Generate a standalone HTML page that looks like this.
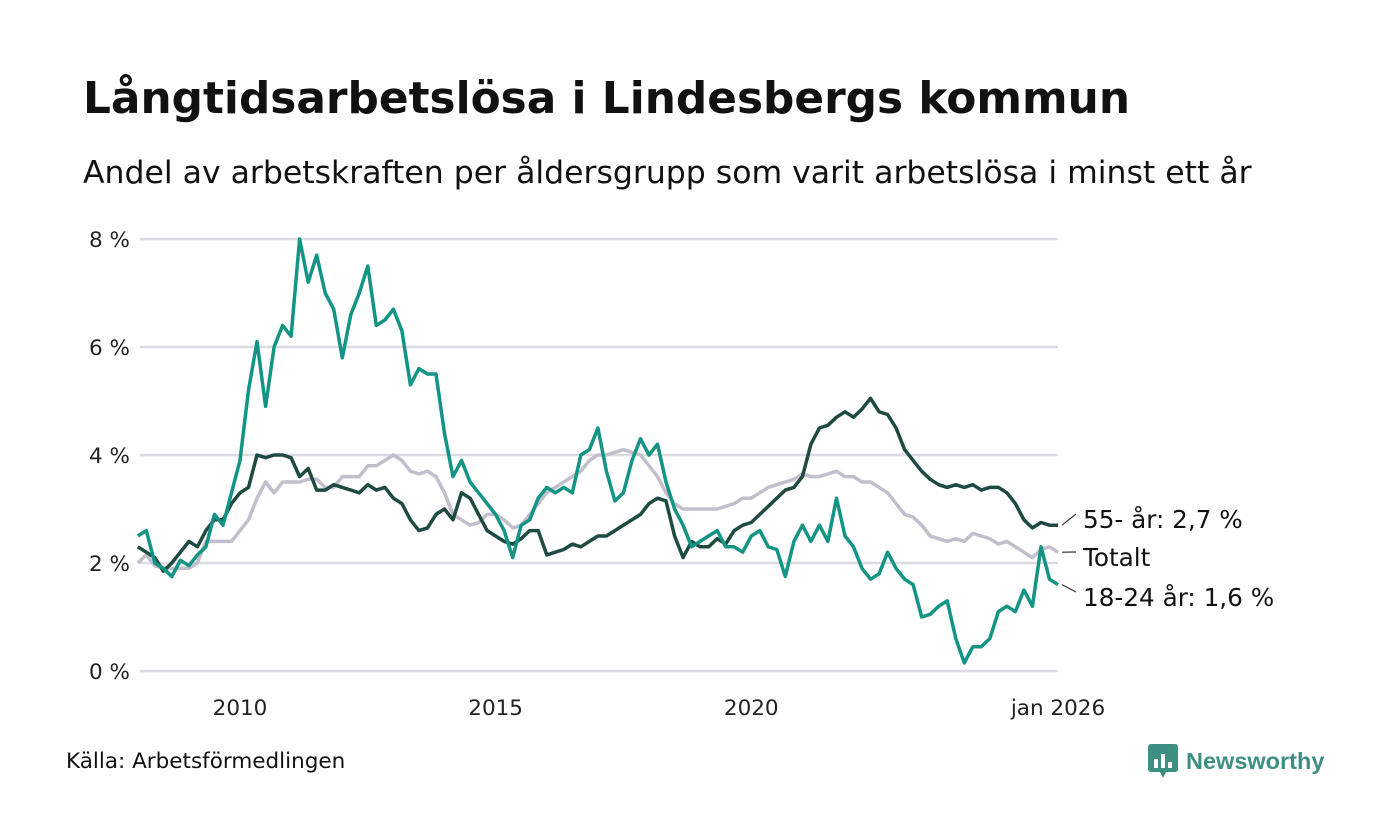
<!DOCTYPE html>
<html><head><meta charset="utf-8">
<style>
body{margin:0;background:#fff;font-family:"DejaVu Sans","Liberation Sans",sans-serif;}
#wrap{position:relative;width:1400px;height:840px;overflow:hidden;}
h1{position:absolute;left:83px;top:73px;margin:0;font-size:43.8px;font-weight:bold;color:#111;white-space:nowrap;}
.sub{position:absolute;left:83px;top:155px;font-size:31.5px;color:#111;white-space:nowrap;}
.src{position:absolute;left:66px;top:749px;font-size:21.5px;color:#111;}
.logo{position:absolute;left:1148px;top:744px;display:flex;align-items:center;gap:8px;color:#3d8f82;font-weight:bold;font-size:23.5px;font-family:"Liberation Sans",sans-serif;}
svg text{font-family:"DejaVu Sans","Liberation Sans",sans-serif;}
</style></head><body>
<div id="wrap">
<h1>Långtidsarbetslösa i Lindesbergs kommun</h1>
<div class="sub">Andel av arbetskraften per åldersgrupp som varit arbetslösa i minst ett år</div>
<svg id="chart" width="1400" height="840" style="position:absolute;left:0;top:0"></svg>
<div class="src">Källa: Arbetsförmedlingen</div>
<div class="logo">
<svg width="30" height="34" viewBox="0 0 30 34"><rect x="0" y="0" width="30" height="28" rx="3" fill="#3d8f82"/><path d="M12 28 L15 34 L18 28Z" fill="#3d8f82"/><rect x="6" y="15" width="4" height="9" fill="#fff"/><rect x="13" y="10" width="4" height="14" fill="#fff"/><rect x="20" y="18" width="4" height="6" fill="#fff"/></svg>
<span>Newsworthy</span></div>
</div>
<script>
const startYear = 2008;
const stepYears = 1/6;
const totalt = [2.0,2.15,1.95,1.9,1.9,1.9, 1.9,2.0,2.4,2.4,2.4,2.4, 2.6,2.8,3.2,3.5,3.3,3.5, 3.5,3.5,3.55,3.55,3.4,3.4, 3.6,3.6,3.6,3.8,3.8,3.9, 4.0,3.9,3.7,3.65,3.7,3.6, 3.3,2.9,2.8,2.7,2.75,2.9, 2.9,2.8,2.65,2.7,2.9,3.1, 3.3,3.4,3.5,3.6,3.7,3.9, 4.0,4.0,4.05,4.1,4.05,4.0, 3.8,3.6,3.3,3.1,3.0,3.0, 3.0,3.0,3.0,3.05,3.1,3.2, 3.2,3.3,3.4,3.45,3.5,3.55, 3.65,3.6,3.6,3.65,3.7,3.6, 3.6,3.5,3.5,3.4,3.3,3.1, 2.9,2.85,2.7,2.5,2.45,2.4, 2.45,2.4,2.55,2.5,2.45,2.35, 2.4,2.3,2.2,2.1,2.25,2.3, 2.2];
const age55 = [2.3,2.2,2.1,1.85,2.0,2.2, 2.4,2.3,2.6,2.8,2.8,3.1, 3.3,3.4,4.0,3.95,4.0,4.0, 3.95,3.6,3.75,3.35,3.35,3.45, 3.4,3.35,3.3,3.45,3.35,3.4, 3.2,3.1,2.8,2.6,2.65,2.9, 3.0,2.8,3.3,3.2,2.9,2.6, 2.5,2.4,2.35,2.45,2.6,2.6, 2.15,2.2,2.25,2.35,2.3,2.4, 2.5,2.5,2.6,2.7,2.8,2.9, 3.1,3.2,3.15,2.5,2.1,2.4, 2.3,2.3,2.45,2.35,2.6,2.7, 2.75,2.9,3.05,3.2,3.35,3.4, 3.6,4.2,4.5,4.55,4.7,4.8, 4.7,4.85,5.05,4.8,4.75,4.5, 4.1,3.9,3.7,3.55,3.45,3.4, 3.45,3.4,3.45,3.35,3.4,3.4, 3.3,3.1,2.8,2.65,2.75,2.7, 2.7];
const age1824 = [2.5,2.6,2.0,1.9,1.75,2.05, 1.95,2.15,2.3,2.9,2.7,3.3, 3.9,5.2,6.1,4.9,6.0,6.4, 6.2,8.0,7.2,7.7,7.0,6.7, 5.8,6.6,7.0,7.5,6.4,6.5, 6.7,6.3,5.3,5.6,5.5,5.5, 4.4,3.6,3.9,3.5,3.3,3.1, 2.9,2.6,2.1,2.7,2.8,3.2, 3.4,3.3,3.4,3.3,4.0,4.1, 4.5,3.7,3.15,3.3,3.9,4.3, 4.0,4.2,3.5,3.0,2.7,2.3, 2.4,2.5,2.6,2.3,2.3,2.2, 2.5,2.6,2.3,2.25,1.75,2.4, 2.7,2.4,2.7,2.4,3.2,2.5, 2.3,1.9,1.7,1.8,2.2,1.9, 1.7,1.6,1.0,1.05,1.2,1.3, 0.6,0.15,0.45,0.45,0.6,1.1, 1.2,1.1,1.5,1.2,2.3,1.7, 1.6];
const yTicks = [0,2,4,6,8];
const yTickLabels = ["0 %","2 %","4 %","6 %","8 %"];
const xTicks = [2010,2015,2020,2026];
const xTickLabels = ["2010","2015","2020","jan 2026"];
const seriesLabels = ["55- år: 2,7 %","Totalt","18-24 år: 1,6 %"];

const NS="http://www.w3.org/2000/svg";
const svg=document.getElementById('chart');
const x0=137.75, x1=1058, y0=671, yPer=54;
const xs=t=>x0+(t-2008)*(x1-x0)/18;
const ys=v=>y0-v*yPer;
function mk(tag,attrs){const e=document.createElementNS(NS,tag);for(const k in attrs)e.setAttribute(k,attrs[k]);svg.appendChild(e);return e;}
yTicks.forEach((v,i)=>{
  const l=mk('line',{x1:140,x2:1058,y1:ys(v),y2:ys(v),stroke:'#dcdbe2','stroke-width':2.5});
  
  
  const t=mk('text',{x:130,y:ys(v)+8,'text-anchor':'end','font-size':21.5,fill:'#222'});
  t.textContent=yTickLabels[i];
  
  
});
xTicks.forEach((v,i)=>{
  const t=mk('text',{x:xs(v),y:715,'text-anchor':'middle','font-size':21.5,fill:'#222'});
  t.textContent=xTickLabels[i];
  
  
});
function line(data,color,name){
  const d=data.map((v,i)=>(i?'L':'M')+xs(startYear+i*stepYears).toFixed(1)+' '+ys(v).toFixed(1)).join(' ');
  const p=mk('path',{d:d,fill:'none',stroke:color,'stroke-width':3.5,'stroke-linejoin':'round'});
  
  
}
line(totalt,'#c2bfcc','line-totalt');
line(age55,'#1f4a42','line-55-plus');
line(age1824,'#139485','line-18-24');
const ends=[age55,totalt,age1824];
const labelY=[519,557,597];
ends.forEach((s,i)=>{
  const ey=ys(s[s.length-1]);
  const l=mk('line',{x1:1062,y1:ey,x2:1076,y2:labelY[i]-5,stroke:'#333','stroke-width':1.2});
  
  
  const t=mk('text',{x:1083,y:labelY[i]+9,'font-size':24.7,fill:'#111'});
  t.textContent=seriesLabels[i];
  
  
});
</script>
</body></html>
